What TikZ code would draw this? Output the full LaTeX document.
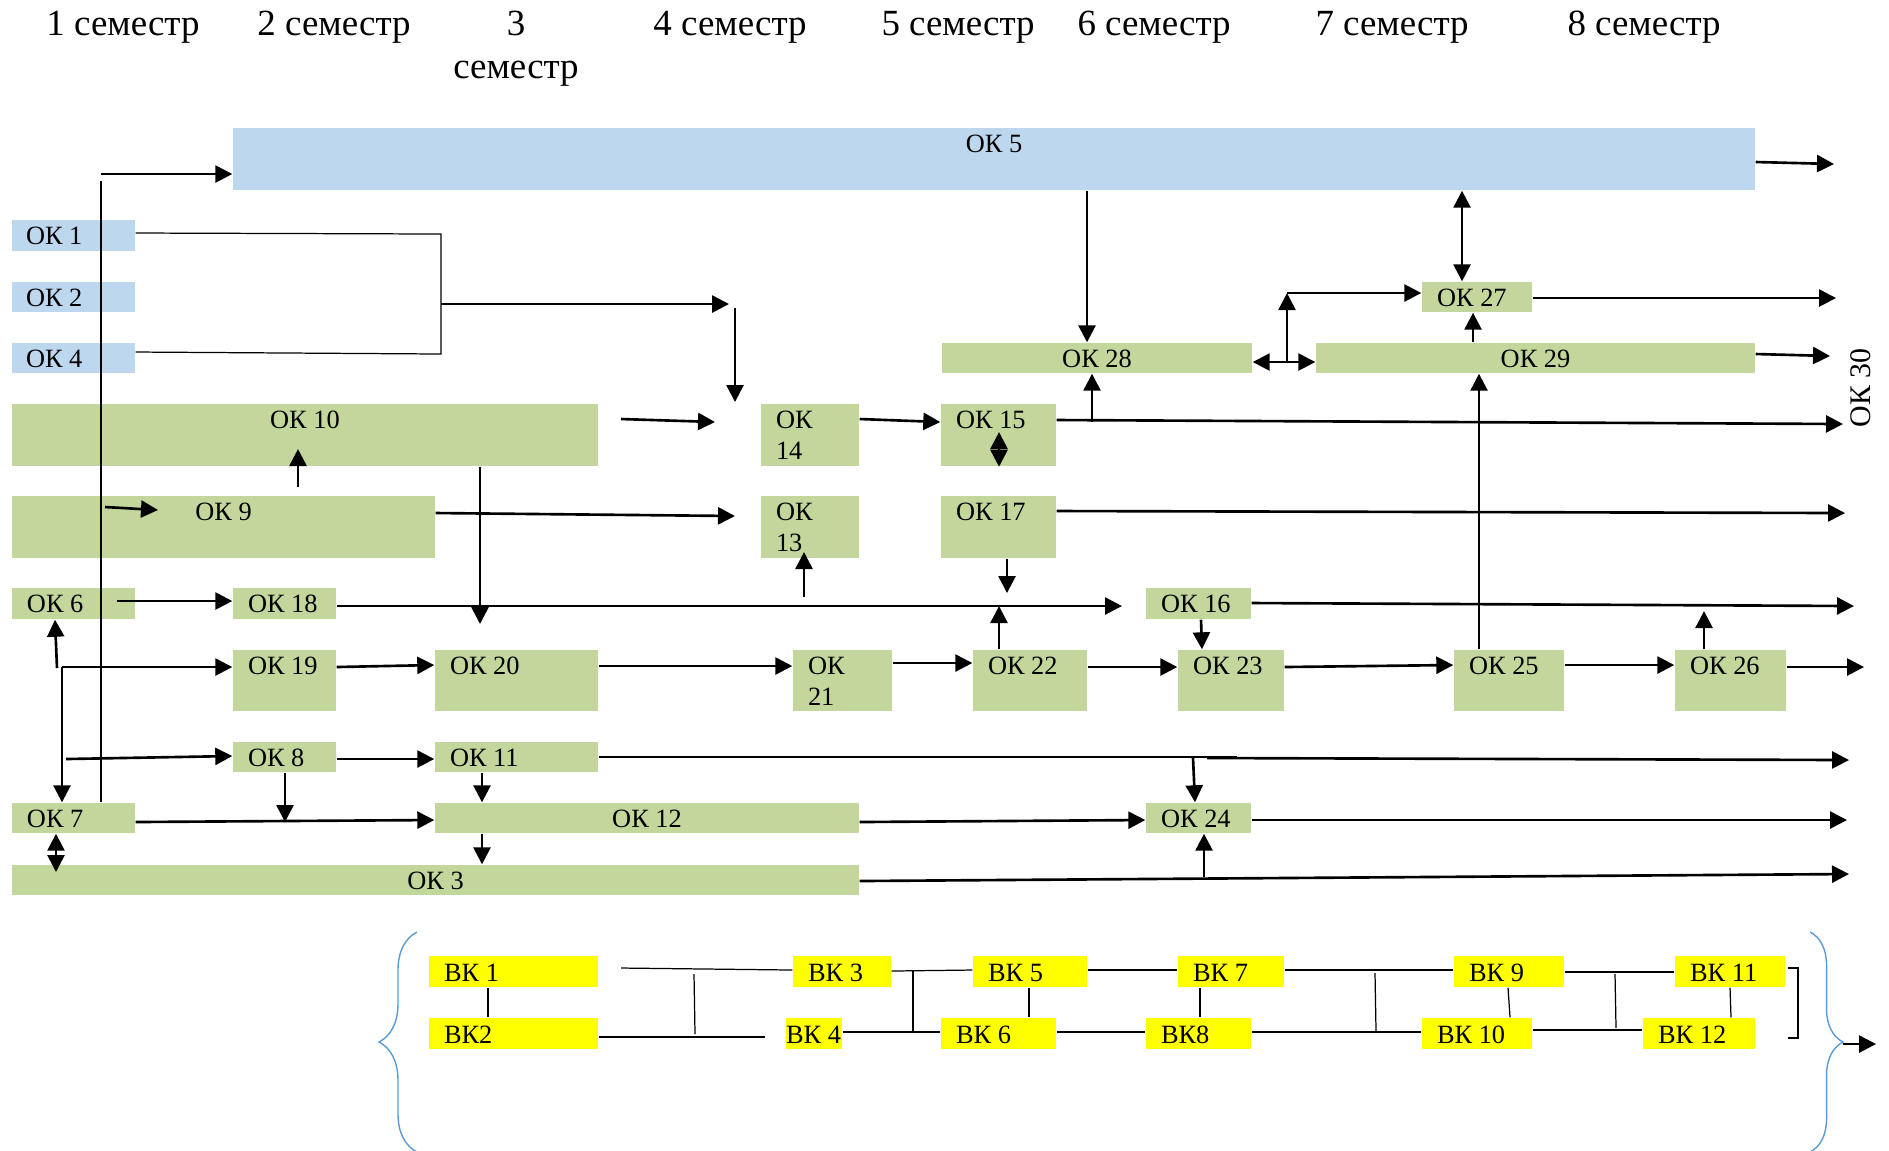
\documentclass[tikz,border=0pt]{standalone}
\usepackage{fontspec}
\setmainfont{Liberation Serif}
\usetikzlibrary{arrows.meta,fit,calc,decorations.pathreplacing}
\definecolor{okblue}{RGB}{189,215,238}
\definecolor{okgreen}{RGB}{195,214,155}
\definecolor{vkyellow}{RGB}{255,255,0}
\definecolor{braceblue}{RGB}{91,155,213}
\tikzset{
  okb/.style={fill=okblue, inner sep=0pt},
  okg/.style={fill=okgreen, inner sep=0pt},
  vkb/.style={fill=vkyellow, inner sep=0pt},
  lbl/.style={font=\fontsize{7.5}{8.8}\selectfont, inner sep=0pt},
  sem/.style={font=\fontsize{10.5}{12.2}\selectfont, inner sep=0pt},
  arr/.style={-{Triangle[length=1.7mm,width=1.7mm]}, line width=0.75pt},
  darr/.style={{Triangle[length=1.7mm,width=1.7mm]}-{Triangle[length=1.7mm,width=1.7mm]}, line width=0.75pt},
  ln/.style={line width=0.35pt},
  lnb/.style={line width=0.6pt},
  brc/.style={draw=braceblue, line width=0.4pt, decorate, decoration={brace, amplitude=#1}},
}
\begin{document}
\begin{tikzpicture}[x=0.01cm, y=-0.01cm]
\useasboundingbox (0,0) rectangle (1889,1150);

% semesters
\node[sem, anchor=base] (s1) at (123,35) {1 семестр};
\node[sem, anchor=base] (s2) at (334,35) {2 семестр};
\node[sem, anchor=north, align=center] (s3) at (516,10) {3\\семестр};
\node[sem, anchor=base] (s4) at (730,35) {4 семестр};
\node[sem, anchor=base] (s5) at (958,35) {5 семестр};
\node[sem, anchor=base] (s6) at (1154,35) {6 семестр};
\node[sem, anchor=base] (s7) at (1392,35) {7 семестр};
\node[sem, anchor=base] (s8) at (1644,35) {8 семестр};

% blue boxes
\foreach \n/\xa/\ya/\xb/\yb/\txt in {ok1/12/220/135/251/ОК 1, ok2/12/282/135/312/ОК 2, ok4/12/343/135/373/ОК 4}
  {\node[okb, fit={(\xa,\ya) (\xb,\yb)}] (\n) {};
   \node[lbl, anchor=base west] (\n t) at ($(\n.north west)+(14,25)$) {\txt};}
\node[okb, fit={(233,128) (1755,190)}] (ok5) {};
\node[lbl, anchor=base] (ok5t) at ($(ok5.north)+(0,25)$) {ОК 5};

% green boxes, text on the left
\foreach \n/\xa/\ya/\xb/\yb/\txt in {ok27/1422/282/1532/312/ОК 27, ok15/941/404/1056/466/ОК 15,
    ok17/941/496/1056/558/ОК 17, ok6/12/588/135/619/ОК 6, ok18/233/588/336/619/ОК 18,
    ok16/1146/588/1251/619/ОК 16, ok19/233/650/336/711/ОК 19, ok20/435/650/598/711/ОК 20,
    ok22/973/650/1087/711/ОК 22, ok23/1178/650/1284/711/ОК 23, ok25/1454/650/1564/711/ОК 25,
    ok26/1675/650/1786/711/ОК 26, ok8/233/742/336/772/ОК 8, ok11/435/742/598/772/ОК 11,
    ok7/12/803/135/833/ОК 7, ok24/1146/803/1251/833/ОК 24}
  {\node[okg, fit={(\xa,\ya) (\xb,\yb)}] (\n) {};
   \node[lbl, anchor=base west] (\n t) at ($(\n.north west)+(15,25)$) {\txt};}

% green boxes, text in the middle
\foreach \n/\xa/\ya/\xb/\yb/\txt in {ok28/942/343/1252/373/ОК 28, ok29/1316/343/1755/373/ОК 29,
    ok10/12/404/598/466/ОК 10, ok9/12/496/435/558/ОК 9, ok12/435/803/859/833/ОК 12,
    ok3/12/865/859/895/ОК 3}
  {\node[okg, fit={(\xa,\ya) (\xb,\yb)}] (\n) {};
   \node[lbl, anchor=base] (\n t) at ($(\n.north)+(0,25)$) {\txt};}

% narrow boxes, two lines (base = last line)
\node[okg, fit={(761,404) (859,466)}] (ok14) {};
\node[lbl, anchor=base west, align=left] (ok14t) at ($(ok14.north west)+(15,56)$) {ОК\\14};
\node[okg, fit={(761,496) (859,558)}] (ok13) {};
\node[lbl, anchor=base west, align=left] (ok13t) at ($(ok13.north west)+(15,56)$) {ОК\\13};
\node[okg, fit={(793,650) (892,711)}] (ok21) {};
\node[lbl, anchor=base west, align=left] (ok21t) at ($(ok21.north west)+(15,56)$) {ОК\\21};

\node[lbl, font=\fontsize{8.5}{10}\selectfont, rotate=90] (ok30) at (1861,388) {ОК 30};

% yellow boxes
\foreach \n/\xa/\ya/\xb/\yb/\txt in {vk1/429/956/598/987/ВК 1, vk2/429/1018/598/1049/ВК2,
    vk3/793/956/891/987/ВК 3, vk5/973/956/1087/987/ВК 5, vk6/941/1018/1056/1049/ВК 6,
    vk7/1178/956/1284/987/ВК 7, vk8/1146/1018/1251/1049/ВК8, vk9/1454/956/1564/987/ВК 9,
    vk10/1422/1018/1532/1049/ВК 10, vk11/1675/956/1785/987/ВК 11, vk12/1643/1018/1755/1049/ВК 12}
  {\node[vkb, fit={(\xa,\ya) (\xb,\yb)}] (\n) {};
   \node[lbl, anchor=base west] (\n t) at ($(\n.north west)+(15,26)$) {\txt};}
\node[vkb, fit={(786,1018) (842,1049)}] (vk4) {};
\node[lbl, anchor=base west] (vk4t) at ($(vk4.north west)+(0,26)$) {ВК 4};

% left part
\draw[ln] (101,181) -- (ok7.north -| 101,0);
\draw[arr] (101,174) -- (ok5.west |- 0,174);
\draw[ln] (ok1.east |- 0,233) -- (441,234) -- (441,354) -- (ok4.east |- 0,352);
\coordinate (jn) at (441,304);
\draw[arr] (jn) -- (729,304);
\draw[arr] (735,308) -- (735,402);
\draw[arr] (621,419) -- (715,422);
\draw[arr] (ok14.east |- 0,419) -- (ok15.west |- 0,422);
\draw[arr] (ok9.east |- 0,513) -- (735,516);
\draw[arr] (105,507) -- (158,510);
\draw[arr] (298,487) -- (298,449);
\draw[arr] (ok10.south -| 480,0) -- (480,624);
\draw[arr] (117,601) -- (ok18.west |- 0,601);
\draw[arr] (ok18.east |- 0,606) -- (1122,606);
\draw[arr] (804,597) -- (804,552);
\draw[arr] (57,668) -- (ok6.south -| 55,0);
\draw[arr] (62,667) -- (ok19.west |- 0,667);
\draw[arr] (62,667) -- (ok7.north -| 62,0);
\draw[arr] (66,759) -- (ok8.west |- 0,756);
\draw[arr] (ok8.east |- 0,759) -- (ok11.west |- 0,759);
\draw[arr] (ok8.south -| 285,0) -- (285,822);
\draw[arr] (ok7.east |- 0,822) -- (ok12.west |- 0,820);
\draw[arr] (ok11.south -| 482,0) -- (ok12.north -| 482,0);
\draw[arr] (ok12.south -| 482,0) -- (ok3.north -| 482,0);
\draw[darr] (ok7.south -| 56,0) -- (56,872);

% lower rows
\draw[ln] (ok11.east |- 0,757) -- (1237,757);
\draw[arr] (1207,758) -- (1849,760);
\draw[arr] (1193,758) -- (ok24.north -| 1195,0);
\draw[arr] (ok12.east |- 0,822) -- (ok24.west |- 0,820);
\draw[arr] (ok24.east |- 0,820) -- (1847,820);
\draw[arr] (ok3.east |- 0,881) -- (1849,874);
\draw[arr] (1204,877) -- (ok24.south -| 1204,0);
\draw[arr] (ok19.east |- 0,667) -- (ok20.west |- 0,665);
\draw[arr] (ok20.east |- 0,666) -- (ok21.west |- 0,666);
\draw[arr] (ok21.east |- 0,663) -- (ok22.west |- 0,663);
\draw[arr] (ok22.east |- 0,667) -- (ok23.west |- 0,667);
\draw[arr] (ok23.east |- 0,667) -- (ok25.west |- 0,665);
\draw[arr] (ok25.east |- 0,665) -- (ok26.west |- 0,665);
\draw[arr] (ok26.east |- 0,667) -- (1864,667);
\draw[arr] (ok22.north -| 999,0) -- (999,606);
\draw[arr] (ok17.south -| 1007,0) -- (1007,593);
\draw[arr] (ok16.east |- 0,603) -- (1854,606);
\draw[arr] (ok16.south -| 1201,0) -- (ok23.north -| 1202,0);
\draw[arr] (ok26.north -| 1704,0) -- (1704,611);
\draw[arr] (ok25.north -| 1479,0) -- (ok29.south -| 1479,0);
\draw[arr] (ok17.east |- 0,511) -- (1845,513);
\draw[arr] (ok15.east |- 0,420) -- (1843,424);
\draw[arr] (1092,422) -- (ok28.south -| 1092,0);
\draw[darr] (999,432) -- (ok15.south -| 999,0);

% top right
\draw[arr] (ok5.south -| 1087,0) -- (ok28.north -| 1087,0);
\draw[darr] (ok5.south -| 1462,0) -- (ok27.north -| 1462,0);
\draw[darr] (ok28.east |- 0,362) -- (ok29.west |- 0,362);
\coordinate (kn) at (1287,293);
\draw[arr] (1287,362) -- (kn);
\draw[arr] (kn) -- (ok27.west |- kn);
\draw[arr] (ok29.north -| 1473,0) -- (ok27.south -| 1473,0);
\draw[arr] (ok27.east |- 0,298) -- (1836,298);
\draw[arr] (ok29.east |- 0,354) -- (1830,356);
\draw[arr] (ok5.east |- 0,162) -- (1834,164);

% elective block
\draw[ln] (vk1.south -| 488,0) -- (vk2.north -| 488,0);
\draw[ln] (621,968) -- (vk3.west |- 0,970);
\draw[ln] (694,974) -- (695,1034);
\draw[ln] (vk2.east |- 0,1037) -- (765,1037);
\draw[ln] (vk3.east |- 0,971) -- (vk5.west |- 0,970);
\draw[lnb] (913,971) -- (913,1032);
\draw[lnb] (vk4.east |- 0,1032) -- (vk6.west |- 0,1032);
\draw[ln] (vk5.south -| 1029,0) -- (vk6.north -| 1029,0);
\draw[ln] (vk5.east |- 0,970) -- (vk7.west |- 0,970);
\draw[ln] (vk6.east |- 0,1032) -- (vk8.west |- 0,1032);
\draw[ln] (vk7.south -| 1200,0) -- (vk8.north -| 1200,0);
\draw[ln] (vk7.east |- 0,970) -- (vk9.west |- 0,970);
\draw[ln] (1375,973) -- (1376,1031);
\draw[ln] (vk8.east |- 0,1032) -- (vk10.west |- 0,1032);
\draw[ln] (vk9.south -| 1508,0) -- (vk10.north -| 1510,0);
\draw[ln] (vk9.east |- 0,972) -- (vk11.west |- 0,972);
\draw[ln] (vk10.east |- 0,1030) -- (vk12.west |- 0,1030);
\draw[ln] (1615,974) -- (1616,1028);
\draw[ln] (vk11.south -| 1730,0) -- (vk12.north -| 1731,0);
\draw[ln] (1788,968) -- (1798,968) -- (1798,1038) -- (1788,1038);
\draw[brc=0.38cm] (417,1152) -- (417,932);
\draw[brc=0.33cm] (1810,932) -- (1810,1152);
\coordinate (bt) at (1843,1044);
\draw[arr] (bt) -- (1876,1044);
\end{tikzpicture}
\end{document}
